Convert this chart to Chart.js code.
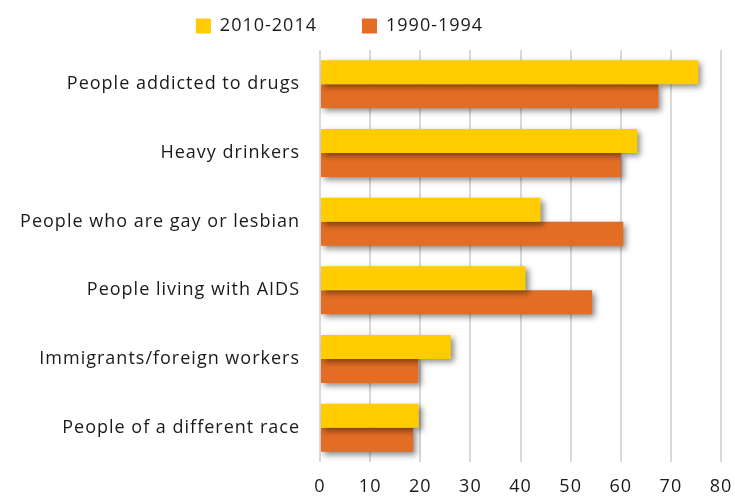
<!DOCTYPE html>
<html>
<head>
<meta charset="utf-8">
<script src="https://cdn.jsdelivr.net/npm/chart.js@4/dist/chart.umd.min.js"></script>
<style>
  html, body { margin: 0; padding: 0; background: #fff; }
  #wrap { width: 735px; height: 496px; }
</style>
</head>
<body>
<div id="wrap"><canvas id="chart"></canvas></div>
<script>
// Данные
const categories = [
  'People addicted to drugs',
  'Heavy drinkers',
  'People who are gay or lesbian',
  'People living with AIDS',
  'Immigrants/foreign workers',
  'People of a different race'
];
const recent = [75.5, 63.3, 44, 41, 26.1, 19.7];   // 2010-2014
const early = [67.5, 60, 60.5, 54.3, 19.6, 18.6];  // 1990-1994
const xTicks = [0, 10, 20, 30, 40, 50, 60, 70, 80];

// Разрядка букв как в оригинале
const spacing = {
  id: 'spacing',
  beforeInit(chart) { chart.ctx.letterSpacing = '1px'; },
  beforeDraw(chart) { chart.ctx.letterSpacing = '1px'; }
};

// Тень под столбцами
const barShadow = {
  id: 'barShadow',
  beforeDatasetsDraw(chart) {
    const ctx = chart.ctx;
    ctx.save();
    ctx.shadowColor = 'rgba(0,0,0,0.45)';
    ctx.shadowBlur = 6;
    ctx.shadowOffsetX = 3;
    ctx.shadowOffsetY = 3;
  },
  afterDatasetsDraw(chart) {
    chart.ctx.restore();
  }
};

// Сдвиг легенды
const legendShift = {
  id: 'legendShift',
  afterLayout(chart) {
    chart.legend.left -= 30;
    chart.legend.right -= 30;
    chart.legend.top -= 5;
  }
};

new Chart(document.getElementById('chart'), {
  type: 'bar',
  data: {
    labels: categories,
    datasets: [
      { label: '2010-2014', data: recent, backgroundColor: '#ffcc00' },
      { label: '1990-1994', data: early, backgroundColor: '#e36d25' }
    ]
  },
  plugins: [spacing, barShadow, legendShift],
  options: {
    indexAxis: 'y',
    responsive: true,
    maintainAspectRatio: false,
    animation: false,
    layout: { padding: { top: -23, right: 14, left: 0, bottom: 0 } },
    datasets: {
      bar: { barPercentage: 1, categoryPercentage: 0.7 }
    },
    plugins: {
      tooltip: { enabled: false },
      legend: {
        position: 'top',
        labels: {
          boxWidth: 15,
          boxHeight: 15,
          padding: 45,
          color: '#1a1a1a',
          font: { family: 'Open Sans', size: 18 }
        }
      }
    },
    scales: {
      x: {
        min: 0,
        max: 80,
        afterBuildTicks(axis) { axis.ticks = xTicks.map(v => ({ value: v })); },
        afterFit(axis) {
          axis.height = 34;
          axis.paddingRight = 0;
          axis.paddingLeft = 0;
        },
        grid: { color: '#d9d9d9', lineWidth: 2, drawTicks: false },
        border: { display: false },
        ticks: { padding: 14, color: '#1a1a1a', font: { family: 'Open Sans', size: 18 } }
      },
      y: {
        afterFit(axis) { axis.width = 320; },
        grid: { display: false },
        border: { display: false },
        ticks: { padding: 12, color: '#1a1a1a', font: { family: 'Open Sans', size: 18 } }
      }
    }
  }
});
</script>
</body>
</html>
